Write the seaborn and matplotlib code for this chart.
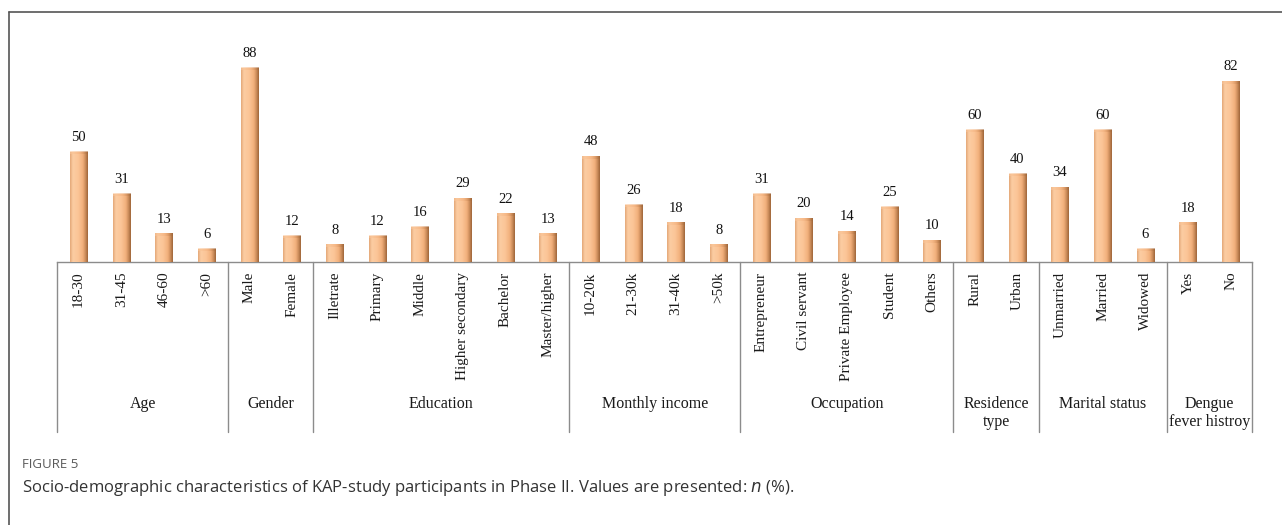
import numpy as np
import matplotlib
matplotlib.use("Agg")
import matplotlib.pyplot as plt
from matplotlib.colors import LinearSegmentedColormap
from matplotlib.lines import Line2D
import matplotlib.transforms as mtransforms
import seaborn as sns

# Socio-demographic categories and percentages
categories = [
    "18-30", "31-45", "46-60", ">60",
    "Male", "Female",
    "Illetrate", "Primary", "Middle", "Higher secondary", "Bachelor", "Master/higher",
    "10-20k", "21-30k", "31-40k", ">50k",
    "Entrepreneur", "Civil servant", "Private Employee", "Student", "Others",
    "Rural", "Urban",
    "Unmarried", "Married", "Widowed",
    "Yes", "No",
]
values = [50, 31, 13, 6,
          88, 12,
          8, 12, 16, 29, 22, 13,
          48, 26, 18, 8,
          31, 20, 14, 25, 10,
          60, 40,
          34, 60, 6,
          18, 82]
group_names = ["Age", "Gender", "Education", "Monthly income", "Occupation",
               "Residence\ntype", "Marital status", "Dengue\nfever histroy"]
group_sizes = [4, 2, 6, 4, 5, 2, 3, 2]

W, H = 1282, 525
sns.set_theme(style="white")
plt.rcParams["font.family"] = ["Liberation Serif", "DejaVu Serif"]

fig = plt.figure(figsize=(W / 100, H / 100), dpi=100)
base_px, top_px = 262, 30
left_px, right_px = 57.3, 1252
ax = fig.add_axes([left_px / W, (H - base_px) / H,
                   (right_px - left_px) / W, (base_px - top_px) / H])

px_per_unit = 2.207
ymax = (base_px - top_px) / px_per_unit

sns.barplot(x=categories, y=values, color="#FAC293", width=0.405,
            saturation=1, ax=ax, zorder=2)
ax.set_xlim(-0.5, len(categories) - 0.5)
ax.set_ylim(0, ymax)

# Cylinder-like horizontal shading on each bar
shade = LinearSegmentedColormap.from_list(
    "bar_shade",
    [(0.0, "#E3A676"), (0.15, "#FCCDA3"), (0.45, "#FBC597"),
     (0.72, "#F2B07C"), (0.88, "#C98A58"), (1.0, "#9C6438")])
grad = np.linspace(0, 1, 64).reshape(1, -1)
for bar in ax.patches:
    x0, y0 = bar.get_x(), bar.get_y()
    w, h = bar.get_width(), bar.get_height()
    im = ax.imshow(grad, cmap=shade, aspect="auto", extent=(x0, x0 + w, y0, y0 + h),
                   zorder=3, interpolation="bicubic")
    im.set_clip_path(bar)
    # darker cap on top of the bar
    cap = min(1.2, h)
    ax.imshow(grad, cmap=shade, aspect="auto", alpha=0.55,
              extent=(x0, x0 + w, y0 + h - cap, y0 + h), zorder=4,
              interpolation="bicubic", vmin=-0.6, vmax=1.0)
ax.set_xlim(-0.5, len(categories) - 0.5)
ax.set_ylim(0, ymax)

# Value labels
for i, v in enumerate(values):
    ax.annotate(f"{v}", (i, v), xytext=(0, 5.5), textcoords="offset points",
                ha="center", va="bottom", fontsize=10.5, color="#111111")

# Axes styling
for s in ["top", "right", "left"]:
    ax.spines[s].set_visible(False)
ax.spines["bottom"].set_color("#8c8c8c")
ax.spines["bottom"].set_linewidth(1.0)
ax.set_yticks([])
ax.set_ylabel("")
ax.tick_params(axis="x", length=0, pad=7)
ax.set_xticks(range(len(categories)))
ax.set_xticklabels(categories, rotation=90, fontsize=11, color="#1a1a1a")
ax.set_facecolor("none")

# Group separators and group names below the tick labels
trans = mtransforms.blended_transform_factory(ax.transData, ax.transAxes)
axes_h = base_px - top_px
sep_bottom = -(432 - base_px) / axes_h
label_top = -(396 - base_px) / axes_h
edges = np.concatenate([[0], np.cumsum(group_sizes)]) - 0.5
for e in edges:
    ax.plot([e, e], [0, sep_bottom], transform=trans, color="#8c8c8c",
            lw=1.0, clip_on=False)
for name, a, b in zip(group_names, edges[:-1], edges[1:]):
    ax.text((a + b) / 2, label_top, name, transform=trans, ha="center", va="top",
            fontsize=11.5, color="#1a1a1a", linespacing=1.2)

# Outer frame (top and left edges)
fig.add_artist(Line2D([9 / W, 1.0], [1 - 12 / H, 1 - 12 / H],
                      transform=fig.transFigure, color="#555555", lw=1.2))
fig.add_artist(Line2D([9 / W, 9 / W], [1 - 12 / H, 0.0],
                      transform=fig.transFigure, color="#555555", lw=1.2))

# Caption
fig.text(22 / W, 1 - 465 / H, "FIGURE 5", family="Open Sans", fontsize=9.5,
         color="#5a5a5a", va="center", ha="left")
fig.text(22 / W, 1 - 488 / H,
         "Socio-demographic characteristics of KAP-study participants in Phase II. "
         "Values are presented: $\\it{n}$ (%).",
         family="Open Sans", fontsize=12, color="#333333", va="center", ha="left")

fig.savefig("out.png", dpi=100)
